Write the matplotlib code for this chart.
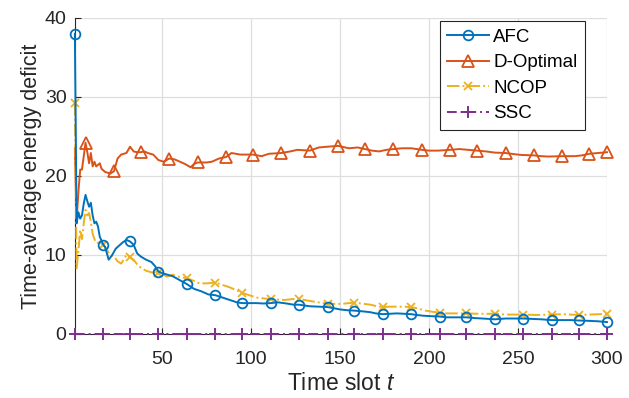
import matplotlib
matplotlib.use("Agg")
import matplotlib.pyplot as plt

# ── data ──────────────────────────────────────────────────────────────────────

afc_t = [1, 2, 3, 4, 5, 6, 7, 8, 9, 10, 11, 12, 13, 14, 15, 17, 18, 20, 22, 24,
         26, 28, 30, 32, 34, 36, 38, 41, 44, 46, 48, 50, 53, 56, 60, 64, 68, 72,
         76, 80, 84, 88, 92, 95, 99, 103, 107, 111, 115, 120, 124, 127, 133, 138,
         143, 150, 154, 158, 163, 167, 170, 174, 178, 182, 186, 190, 193, 197,
         201, 206, 210, 215, 221, 226, 230, 237, 243, 248, 253, 258, 263, 269,
         275, 280, 284, 290, 295, 300]
afc_v = [38.0, 14.0, 15.4, 14.6, 15.0, 16.5, 17.6, 16.8, 16.1, 16.6, 15.0, 14.0,
         14.2, 13.6, 12.3, 11.3, 11.0, 9.4, 10.0, 10.8, 11.2, 11.6, 11.9, 11.7,
         11.3, 10.2, 9.8, 9.4, 9.1, 8.6, 7.9, 7.7, 7.5, 7.3, 6.8, 6.3, 5.7, 5.4,
         5.0, 4.9, 4.6, 4.3, 4.0, 3.9, 3.9, 3.9, 3.85, 3.9, 4.0, 3.85, 3.7, 3.7,
         3.5, 3.45, 3.4, 3.1, 3.0, 2.95, 2.85, 2.75, 2.6, 2.5, 2.55, 2.6, 2.55,
         2.5, 2.4, 2.3, 2.25, 2.2, 2.1, 2.1, 2.1, 2.0, 1.95, 1.85, 1.95, 1.95,
         1.95, 1.9, 1.85, 1.75, 1.75, 1.75, 1.7, 1.65, 1.6, 1.5]

dopt_t = [1, 2, 3, 4, 5, 6, 7, 8, 9, 10, 11, 12, 13, 14, 15, 16, 18, 21, 23, 25,
          27, 30, 32, 34, 36, 38, 40, 42, 45, 48, 51, 54, 57, 60, 63, 66, 68, 70,
          75, 78, 82, 86, 89, 94, 98, 101, 106, 110, 117, 122, 126, 133, 138, 143,
          149, 155, 160, 164, 168, 172, 176, 180, 185, 190, 196, 200, 205, 212,
          217, 222, 227, 232, 237, 243, 248, 252, 259, 263, 267, 275, 282, 286,
          290, 295, 300]
dopt_v = [23.5, 14.5, 18.0, 20.8, 20.8, 22.5, 24.2, 23.0, 21.6, 22.9, 21.2, 21.8,
          21.2, 21.4, 21.6, 20.9, 20.5, 20.3, 20.6, 22.2, 22.7, 22.9, 23.7, 23.1,
          23.0, 23.0, 23.1, 22.9, 22.7, 22.0, 21.8, 22.2, 22.1, 21.8, 21.5, 21.1,
          21.5, 21.7, 21.7, 21.8, 22.2, 22.4, 22.9, 22.7, 22.7, 22.7, 22.5, 22.8,
          22.9, 23.1, 23.3, 23.2, 23.6, 23.7, 23.8, 23.5, 23.6, 23.4, 23.2, 23.1,
          23.3, 23.4, 23.5, 23.5, 23.3, 23.2, 23.2, 23.3, 23.4, 23.3, 23.2, 23.1,
          22.95, 22.9, 22.75, 22.65, 22.6, 22.5, 22.45, 22.5, 22.5, 22.6, 22.8,
          22.9, 23.0]

ncop_t = [1, 2, 3, 4, 5, 6, 7, 8, 9, 10, 11, 12, 13, 15, 17, 19, 21, 23, 25, 27,
          29, 30, 32, 34, 36, 38, 41, 44, 48, 53, 56, 60, 64, 68, 71, 75, 80, 84,
          88, 92, 95, 99, 103, 107, 111, 115, 119, 123, 127, 131, 135, 139, 143,
          147, 151, 155, 158, 162, 167, 171, 174, 178, 182, 186, 190, 194, 198,
          202, 206, 210, 215, 221, 228, 237, 243, 253, 260, 269, 275, 284, 290,
          296, 300]
ncop_v = [29.2, 8.3, 10.5, 13.2, 12.0, 14.0, 15.7, 15.0, 15.3, 14.2, 12.7, 12.0,
          11.5, 11.6, 11.3, 10.6, 10.0, 9.8, 9.2, 8.9, 9.6, 10.0, 9.7, 9.4, 8.8,
          8.4, 8.0, 7.8, 7.7, 7.25, 7.5, 7.2, 7.05, 6.7, 6.4, 6.4, 6.5, 6.2, 5.9,
          5.5, 5.2, 4.9, 4.6, 4.5, 4.4, 4.35, 4.3, 4.4, 4.45, 4.25, 4.1, 3.95,
          3.85, 3.8, 3.8, 3.9, 3.95, 3.85, 3.7, 3.5, 3.4, 3.45, 3.45, 3.45, 3.4,
          3.2, 2.95, 2.8, 2.7, 2.6, 2.6, 2.6, 2.55, 2.55, 2.45, 2.45, 2.4, 2.45,
          2.5, 2.4, 2.45, 2.5, 2.5]

ssc_t = [1, 17, 32, 48, 64, 80, 95, 111, 127, 143, 158, 174, 190, 206, 221, 237,
         253, 269, 284, 300]
ssc_v = [0, 0, 0, 0, 0, 0, 0, 0, 0, 0, 0, 0, 0, 0, 0, 0, 0, 0, 0, 0]

# slots that carry a marker
marks_main = [1, 17, 32, 48, 64, 80, 95, 111, 127, 143, 158, 174, 190, 206, 221,
              237, 253, 269, 284, 300]
marks_dopt = [7, 23, 38, 54, 70, 86, 101, 117, 133, 149, 164, 180, 196, 212,
              227, 243, 259, 275, 290, 300]

x_ticks = [50, 100, 150, 200, 250, 300]
y_ticks = [0, 10, 20, 30, 40]


def nearest_idx(ts, marks):
    return [min(range(len(ts)), key=lambda i: abs(ts[i] - m)) for m in marks]


# ── plot ──────────────────────────────────────────────────────────────────────

plt.rcParams["font.family"] = ["Liberation Sans", "DejaVu Sans"]
plt.rcParams["mathtext.fontset"] = "custom"
plt.rcParams["mathtext.it"] = "Liberation Sans:italic"
plt.rcParams["mathtext.rm"] = "Liberation Sans"

fig = plt.figure(figsize=(6.29, 3.98), dpi=100)
ax = fig.add_axes([0.119, 0.161, 0.846, 0.794])

ax.plot(afc_t, afc_v, color="#0072BD", lw=1.4, marker="o", ms=7, mfc="none",
        mew=1.3, markevery=nearest_idx(afc_t, marks_main), label="AFC",
        clip_on=False, zorder=4)
ax.plot(dopt_t, dopt_v, color="#D95319", lw=1.4, marker="^", ms=8, mfc="none",
        mew=1.3, markevery=nearest_idx(dopt_t, marks_dopt), label="D-Optimal",
        clip_on=False, zorder=3)
ax.plot(ncop_t, ncop_v, color="#EDB120", lw=1.4, ls="-.", marker="x", ms=6,
        mew=1.3, markevery=nearest_idx(ncop_t, marks_main), label="NCOP",
        clip_on=False, zorder=3)
ax.plot(ssc_t, ssc_v, color="#7E2F8E", lw=1.4, ls=(0, (5, 2, 1, 2)), marker="+",
        ms=9, mew=1.4, label="SSC", clip_on=False, zorder=5)

ax.set_xlim(1, 300)
ax.set_ylim(0, 40)
ax.set_xticks(x_ticks)
ax.set_yticks(y_ticks)
ax.grid(True, color="#dedede", lw=0.9)
ax.set_axisbelow(True)
for side in ("top", "right"):
    ax.spines[side].set_visible(False)
for side in ("left", "bottom"):
    ax.spines[side].set_color("#262626")
    ax.spines[side].set_linewidth(0.8)
ax.tick_params(direction="in", length=4, width=0.8, colors="#262626",
               labelsize=14)
ax.tick_params(axis="x", pad=12)
ax.tick_params(axis="y", pad=6)

ax.set_xlabel("Time slot $t$", fontsize=16.5, color="#262626", labelpad=3)
ax.set_ylabel("Time-average energy deficit", fontsize=15.5, color="#262626",
              labelpad=2)

leg = ax.legend(loc="upper right", bbox_to_anchor=(0.959, 0.99), fontsize=13.5,
                fancybox=False, framealpha=1, edgecolor="#262626",
                handlelength=2.2, handletextpad=0.25, borderpad=0.4,
                labelspacing=0.45, borderaxespad=0.0)
leg.get_frame().set_linewidth(0.8)

fig.savefig("out.png", dpi=100)
